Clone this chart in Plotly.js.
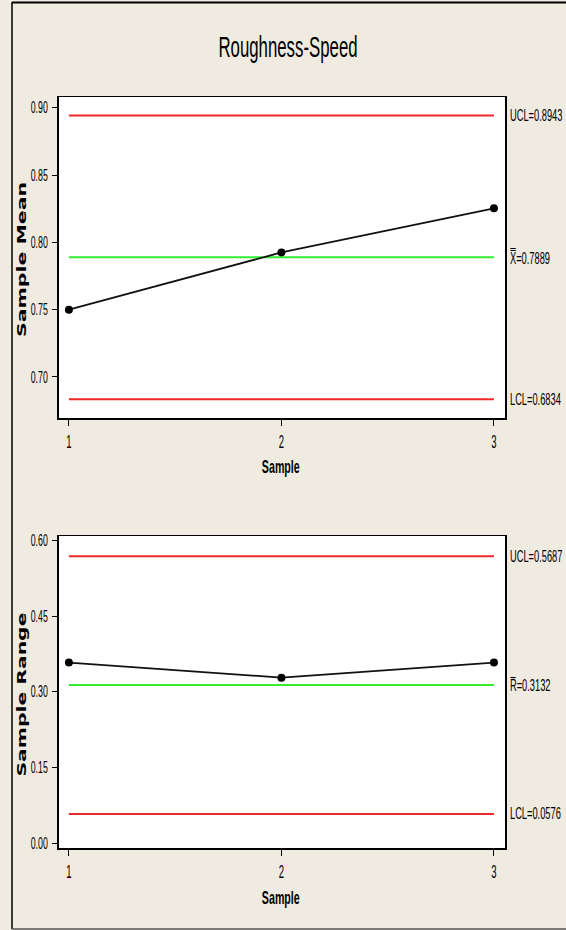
<!DOCTYPE html>
<html>
<head>
<meta charset="utf-8">
<script src="https://cdn.plot.ly/plotly-3.0.1.min.js"></script>
<style>
html,body{margin:0;padding:0;background:#f0ebe0;}
#chart{width:566px;height:930px;}
</style>
</head>
<body>
<div id="chart"></div>
<script>
// Data
const samples = [1, 2, 3];
const sampleMeans = [0.750, 0.7925, 0.8253];
const sampleRanges = [0.358, 0.328, 0.358];
const meanLimits = {UCL: 0.8943, CL: 0.7889, LCL: 0.6834};
const rangeLimits = {UCL: 0.5687, CL: 0.3132, LCL: 0.0576};
const meanTicks = [0.70, 0.75, 0.80, 0.85, 0.90];
const rangeTicks = [0.00, 0.15, 0.30, 0.45, 0.60];

const W = 566, H = 930;
const sans = '"Liberation Sans", Arial, sans-serif';
const wide = '"DejaVu Sans", Verdana, sans-serif';
const red = '#f0282c', green = '#30ee30';

function hline(val, color, xa, ya) {
  return {x: [samples[0], samples[samples.length-1]], y: [val, val], xaxis: xa, yaxis: ya,
    mode: 'lines', line: {color: color, width: 2}, hoverinfo: 'skip', showlegend: false};
}
const traces = [
  hline(meanLimits.UCL, red, 'x', 'y'),
  hline(meanLimits.CL, green, 'x', 'y'),
  hline(meanLimits.LCL, red, 'x', 'y'),
  {x: samples, y: sampleMeans, xaxis: 'x', yaxis: 'y', mode: 'lines+markers',
   line: {color: '#111', width: 1.8}, marker: {color: '#000', size: 8}, showlegend: false},
  hline(rangeLimits.UCL, red, 'x2', 'y2'),
  hline(rangeLimits.CL, green, 'x2', 'y2'),
  hline(rangeLimits.LCL, red, 'x2', 'y2'),
  {x: samples, y: sampleRanges, xaxis: 'x2', yaxis: 'y2', mode: 'lines+markers',
   line: {color: '#111', width: 1.8}, marker: {color: '#000', size: 8}, showlegend: false}
];

const xdom = [58.5/W, 505/W];
const axCommon = {
  showline: true, linecolor: '#000', linewidth: 1.5, mirror: true,
  showgrid: false, zeroline: false, ticks: 'outside', ticklen: 5, tickwidth: 1, tickcolor: '#000'
};
function xa(anchor) {
  return Object.assign({}, axCommon, {domain: xdom, anchor: anchor, range: [0.951, 3.052],
    tickvals: samples, ticktext: samples.map(String), ticklen: 6, ticklabelstandoff: 0,
    tickfont: {family: sans, size: 19, color: '#000'}});
}
function ya(anchor, dom, range, ticks) {
  return Object.assign({}, axCommon, {domain: dom, anchor: anchor, range: range,
    tickvals: ticks, ticktext: ticks.map(v => v.toFixed(2)), ticklabelstandoff: 1,
    tickfont: {family: sans, size: 16, color: '#000'}});
}

// annotations with a horizontal squeeze factor (or target length) applied after drawing
const annSpecs = [];
function ann(a, squeeze, targetLen) { annSpecs.push({squeeze: squeeze, len: targetLen}); return a; }
function lab(text, yval, yref) {
  return ann({text: text, x: 508/W, xref: 'paper', xanchor: 'left', align: 'left', width: 56, y: yval, yref: yref, yanchor: 'middle',
    showarrow: false, font: {family: sans, size: 16, color: '#000'}}, 0.58);
}
function xtitle(ypx) {
  return ann({text: 'Sample', x: 281/W, xref: 'paper', xanchor: 'center', y: 1 - ypx/H, yref: 'paper', yanchor: 'middle',
    showarrow: false, font: {family: sans, size: 19, weight: 'bold', color: '#000'}}, 0.56);
}
function ytitle(text, ypx, len) {
  return ann({text: text, x: 22/W, xref: 'paper', xanchor: 'center', y: 1 - ypx/H, yref: 'paper', yanchor: 'middle',
    textangle: -90, showarrow: false, font: {family: wide, size: 12, weight: 'bold', color: '#000'}}, null, len);
}

const annotations = [
  lab('UCL=' + meanLimits.UCL, meanLimits.UCL, 'y'),
  lab('X\u033F=' + meanLimits.CL, meanLimits.CL, 'y'),
  lab('LCL=' + meanLimits.LCL, meanLimits.LCL, 'y'),
  lab('UCL=' + rangeLimits.UCL, rangeLimits.UCL, 'y2'),
  lab('R\u0305=' + rangeLimits.CL, rangeLimits.CL, 'y2'),
  lab('LCL=' + rangeLimits.LCL, rangeLimits.LCL, 'y2'),
  xtitle(466), xtitle(897),
  ytitle('Sample Mean', 260, 155),
  ytitle('Sample Range', 695, 164)
];

const layout = {
  width: W, height: H,
  margin: {l: 0, r: 0, t: 0, b: 0},
  paper_bgcolor: '#f0ebe0', plot_bgcolor: '#ffffff',
  showlegend: false,
  title: {text: 'Roughness-Speed', x: 288/W, xanchor: 'center', y: 1 - 46/H, yanchor: 'middle',
    font: {family: sans, size: 30, color: '#000'}},
  xaxis: xa('y'),
  yaxis: ya('x', [1 - 418/H, 1 - 97/H], [0.6695, 0.908], meanTicks),
  xaxis2: xa('y2'),
  yaxis2: ya('x2', [1 - 848/H, 1 - 536/H], [-0.0099, 0.609], rangeTicks),
  annotations: annotations,
  shapes: [
    {type: 'line', xref: 'paper', yref: 'paper', x0: 12/W, x1: 1, y0: 1 - 2.5/H, y1: 1 - 2.5/H, line: {color: '#000', width: 2}},
    {type: 'line', xref: 'paper', yref: 'paper', x0: 12/W, x1: 12/W, y0: 1 - 2/H, y1: 1 - 929/H, line: {color: '#000', width: 1.5}},
    {type: 'line', xref: 'paper', yref: 'paper', x0: 12/W, x1: 1, y0: 1 - 929/H, y1: 1 - 929/H, line: {color: '#555', width: 1.5}}
  ]
};

function fit(t, factor, len) {
  const L = t.getComputedTextLength();
  const target = len || L * factor;
  t.setAttribute('textLength', target);
  t.setAttribute('lengthAdjust', 'spacingAndGlyphs');
}

Plotly.newPlot('chart', traces, layout, {displayModeBar: false, staticPlot: true}).then(gd => {
  gd.querySelectorAll('.gtitle').forEach(t => fit(t, 0.56));
  gd.querySelectorAll('.xtick text, .x2tick text').forEach(t => fit(t, 0.5));
  gd.querySelectorAll('.ytick text, .y2tick text').forEach(t => fit(t, 0.55));
  gd.querySelectorAll('g.annotation').forEach(g => {
    const i = +g.getAttribute('data-index');
    const spec = annSpecs[i];
    const t = g.querySelector('text.annotation-text');
    if (spec && t) fit(t, spec.squeeze, spec.len);
  });
});
</script>
</body>
</html>
